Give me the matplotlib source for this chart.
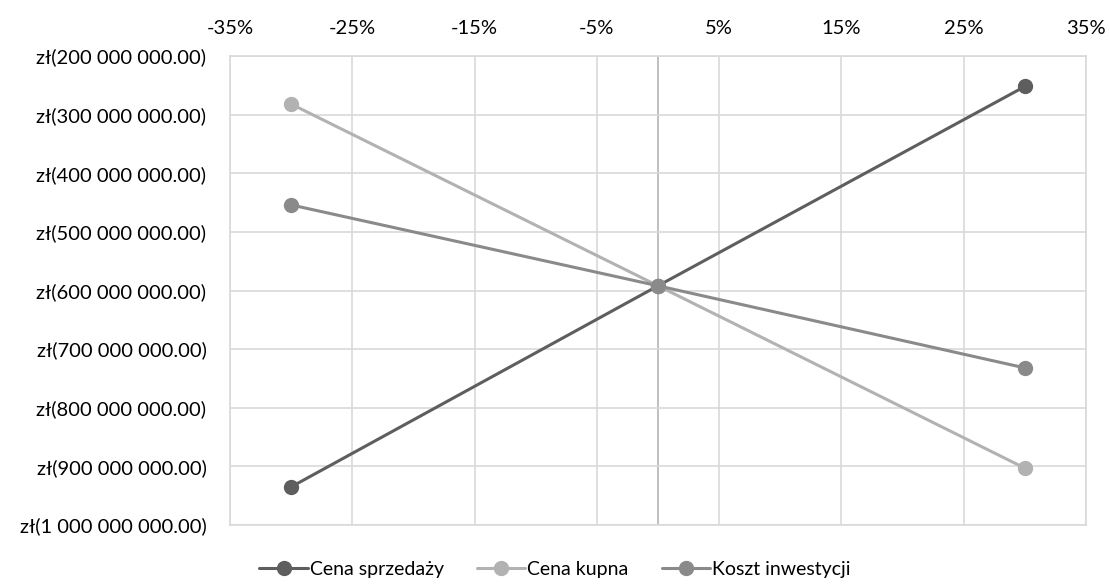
import matplotlib
matplotlib.use("Agg")
import matplotlib.pyplot as plt
from matplotlib.ticker import FuncFormatter, MultipleLocator

plt.rcParams['font.family'] = ['Lato', 'DejaVu Sans']

# Sensitivity of project value to parameter change
changes = [-0.30, 0.0, 0.30]
cena_sprzedazy = [-935e6, -592e6, -252e6]
cena_kupna = [-282e6, -592e6, -903e6]
koszt_inwestycji = [-454e6, -592e6, -732e6]

series_names = ["Cena sprzedaży", "Cena kupna", "Koszt inwestycji"]
series_colors = ["#5e5e5e", "#b2b2b2", "#8a8a8a"]

fig = plt.figure(figsize=(11.1, 5.88), dpi=100)
ax = fig.add_axes([230 / 1110, 1 - 525 / 588, (1086 - 230) / 1110, (525 - 56) / 588])

for vals, name, col in zip([cena_sprzedazy, cena_kupna, koszt_inwestycji], series_names, series_colors):
    ax.plot(changes, vals, color=col, lw=2.2, marker="o", ms=10, label=name,
            solid_capstyle="round", zorder=3)

ax.set_xlim(-0.35, 0.35)
ax.set_ylim(-1000e6, -200e6)
ax.set_xticks([-0.35, -0.25, -0.15, -0.05, 0.05, 0.15, 0.25, 0.35])
ax.yaxis.set_major_locator(MultipleLocator(100e6))


def pln(v, pos):
    s = f"{abs(v):,.2f}".replace(",", " ")
    return f"zł({s})" if v < 0 else f"zł{s}"


ax.yaxis.set_major_formatter(FuncFormatter(pln))
ax.xaxis.set_major_formatter(FuncFormatter(lambda v, p: f"{v * 100:.0f}%"))
ax.xaxis.tick_top()
ax.tick_params(axis="both", length=0, labelsize=14.5, colors="#000000")
ax.tick_params(axis="y", pad=17)
ax.tick_params(axis="x", pad=14)

ax.grid(True, color="#d9d9d9", lw=1.2, zorder=0)
ax.axvline(0, color="#bfbfbf", lw=1.4, zorder=1)
for sp in ax.spines.values():
    sp.set_color("#d9d9d9")
    sp.set_linewidth(1.2)

fig.legend(loc="center", bbox_to_anchor=(0.5, 1 - 569 / 588), ncol=3, frameon=False,
           fontsize=14, handlelength=2.5, handletextpad=0.1, columnspacing=1.7)

fig.savefig("out.png", dpi=100, facecolor="white")
